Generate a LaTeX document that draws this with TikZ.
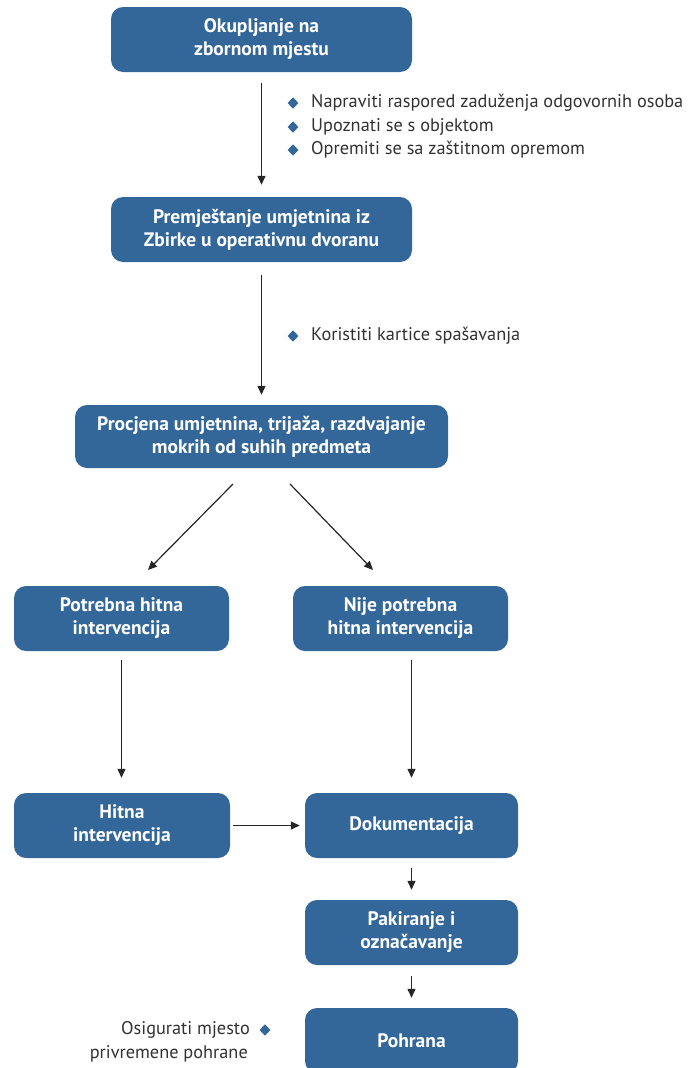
\documentclass[tikz,border=0pt]{standalone}
\usepackage{fontspec}
\setmainfont{PT Sans}
\usetikzlibrary{arrows.meta,shapes.geometric}
\definecolor{boxblue}{RGB}{51,102,153}
\definecolor{txtgray}{RGB}{50,50,50}
\tikzset{
  box/.style={draw=none,fill=boxblue,rounded corners=12pt,text=white,font=\bfseries\fontsize{19.5}{23}\selectfont,align=center,inner sep=0pt},
  conn/.style={draw=black!85,line width=1.2pt,-{Triangle[length=9pt,width=8pt]}},
  bul/.style={diamond,fill=boxblue,inner sep=0pt,minimum width=11pt,minimum height=11.5pt},
  note/.style={text=txtgray,font=\fontsize{18.3}{22}\selectfont,inner sep=0pt}
}
\begin{document}
\begin{tikzpicture}[x=1pt,y=-1pt]
\useasboundingbox (0,0) rectangle (693,1068);
\begin{scope}
\clip (0,0) rectangle (693,1068);
\node[box,minimum width=301pt,minimum height=65pt] (n1) at (261.5,39.5) {Okupljanje na\\zbornom mjestu};
\node[box,minimum width=301pt,minimum height=65pt] (n2) at (261.5,229.5) {Premještanje umjetnina iz\\Zbirke u operativnu dvoranu};
\node[box,minimum width=373pt,minimum height=63pt] (n3) at (261.5,436.5) {Procjena umjetnina, trijaža, razdvajanje\\mokrih od suhih predmeta};
\node[box,minimum width=215pt,minimum height=65pt] (n4) at (121.5,618.5) {Potrebna hitna\\intervencija};
\node[box,minimum width=215pt,minimum height=65pt] (n5) at (400.5,618.5) {Nije potrebna\\hitna intervencija};
\node[box,minimum width=216pt,minimum height=65pt] (n6) at (122,825.5) {Hitna\\intervencija};
\node[box,minimum width=213pt,minimum height=65pt] (n7) at (411.5,825.5) {Dokumentacija};
\node[box,minimum width=213pt,minimum height=65pt] (n8) at (411.5,932.5) {Pakiranje i\\označavanje};
\node[box,minimum width=213pt,minimum height=65pt] (n9) at (411.5,1040.5) {Pohrana};
\end{scope}
% connectors
\draw[conn,shorten <=11pt,shorten >=12pt] (n1.south) -- (n2.north);
\draw[conn,shorten <=13pt,shorten >=10pt] (n2.south) -- (n3.north);
\coordinate (a1) at (233,484);
\coordinate (a2) at (148,570);
\coordinate (b1) at (290,484);
\coordinate (b2) at (373,570);
\draw[conn] (a1) -- (a2);
\draw[conn] (b1) -- (b2);
\draw[conn,shorten <=9pt,shorten >=15pt] (n4.south) -- (n4.south |- n6.north);
\draw[conn,shorten <=9pt,shorten >=15pt] (n5.south -| n7.north) -- (n7.north);
\draw[conn,shorten <=3pt,shorten >=5pt] (n6.east) -- (n7.west);
\draw[conn,shorten <=10pt,shorten >=10pt] (n7.south) -- (n8.north);
\draw[conn,shorten <=11pt,shorten >=10pt] (n8.south) -- (n9.north);
% notes
\node[bul] (d1) at (293,103) {};
\node[note,anchor=west] (t1) at (311,103) {Napraviti raspored zaduženja odgovornih osoba};
\node[bul] (d2) at (293,127) {};
\node[note,anchor=west] (t2) at (311,127) {Upoznati se s objektom};
\node[bul] (d3) at (293,150) {};
\node[note,anchor=west] (t3) at (311,150) {Opremiti se sa zaštitnom opremom};
\node[bul] (d4) at (293,336) {};
\node[note,anchor=west] (t4) at (311,336) {Koristiti kartice spašavanja};
\node[bul] (d5) at (265,1030) {};
\node[note,anchor=east] (t5) at (250,1030) {Osigurati mjesto};
\node[note,anchor=east] (t6) at (248,1054) {privremene pohrane};
\end{tikzpicture}
\end{document}
